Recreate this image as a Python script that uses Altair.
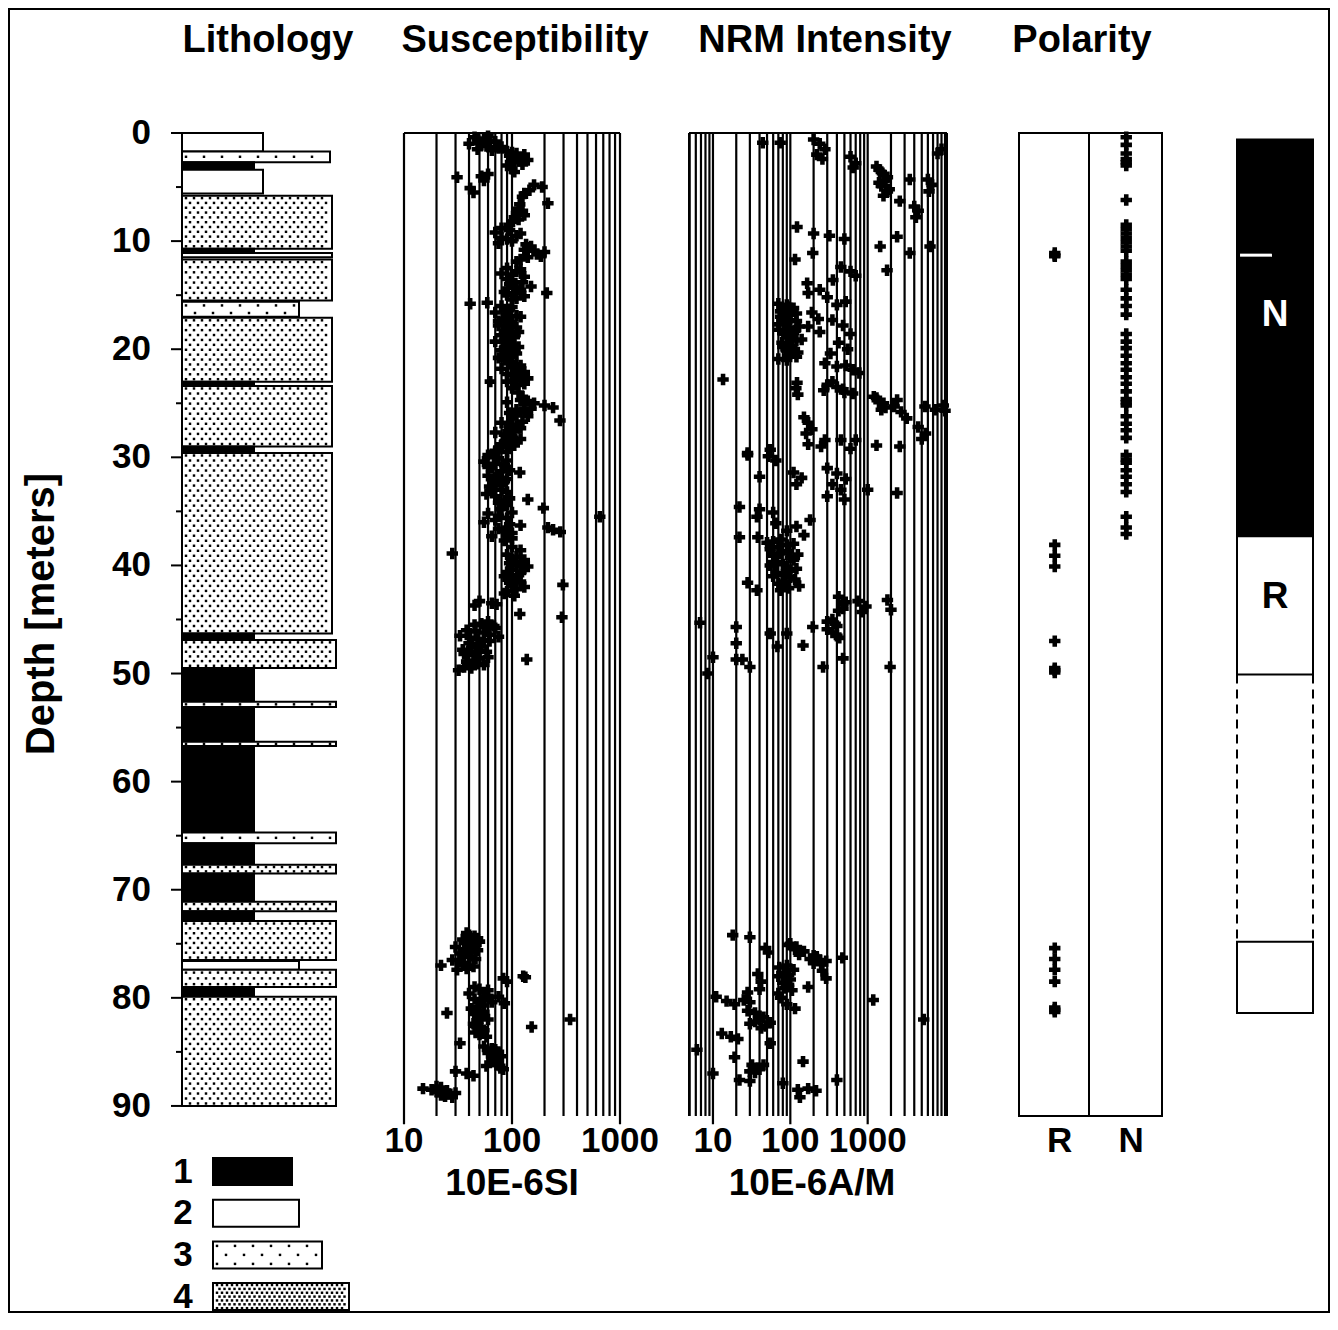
import altair as alt
import pandas as pd
import numpy as np

FONT = "Liberation Sans"

# ---------------- data ----------------
# lithology units (depth in m); grain = relative column width of the unit
lith_top = [0.0, 1.7, 2.7, 3.4, 5.8, 10.7, 11.1, 11.7, 15.6, 17.1, 23.0, 23.4, 29.0, 29.6, 46.3, 46.9,
            49.5, 52.6, 53.1, 56.3, 56.7, 64.7, 65.7, 67.7, 68.5, 71.1, 72.0, 72.9, 76.6, 77.4, 79.0, 79.9]
lith_bottom = [1.7, 2.7, 3.4, 5.6, 10.7, 11.1, 11.5, 15.5, 17.0, 23.0, 23.3, 29.0, 29.6, 46.3, 46.9, 49.5,
               52.6, 53.1, 56.3, 56.7, 64.7, 65.7, 67.7, 68.5, 71.1, 72.0, 72.9, 76.5, 77.4, 79.0, 79.9, 90.0]
lith_type = [2, 3, 1, 2, 4, 1, 2, 4, 3, 4, 1, 4, 1, 4, 1, 4,
             1, 3, 1, 3, 1, 3, 1, 4, 1, 4, 1, 4, 2, 4, 1, 4]
lith_grain = [81, 148, 72, 81, 150, 72, 150, 150, 117, 150, 72, 150, 72, 150, 72, 154,
              72, 154, 72, 154, 72, 154, 72, 154, 72, 154, 72, 154, 117, 154, 72, 154]

legend_codes = ["1", "2", "3", "4"]
legend_grain = [79, 86, 109, 136]

# susceptibility (depth m, 10E-6 SI)
sus_points = [
    (0.4, 45), (0.5, 55), (0.7, 62), (0.9, 50), (1.0, 40), (1.2, 58), (1.3, 80), (1.5, 48), (1.6, 65),
    (1.8, 100), (1.9, 110), (2.1, 95), (2.3, 120), (2.5, 140), (2.7, 105), (3.0, 90), (3.3, 100),
    (0.3, 60), (0.6, 48), (0.8, 70), (1.1, 52), (1.4, 75), (1.7, 90), (2.0, 130), (2.2, 105), (2.6, 115), (2.9, 125),
    (3.6, 105), (3.8, 60), (4.0, 52), (4.1, 31), (4.4, 55),
    (4.8, 160), (5.0, 190), (5.3, 145), (5.6, 130), (5.9, 125), (5.1, 41), (5.5, 44),
    (6.5, 215), (6.6, 118), (7.0, 115), (7.4, 110), (7.8, 105), (8.2, 100),
    (7.2, 125), (7.6, 130), (8.0, 115), (8.5, 95), (9.3, 120), (9.7, 80), (10.3, 135), (10.9, 160), (11.4, 185), (11.9, 110),
    (8.8, 80), (9.0, 95), (9.2, 70), (9.5, 110), (9.8, 90), (10.0, 100), (10.2, 75),
    (10.5, 150), (10.8, 130), (11.0, 200), (11.2, 170), (11.5, 140), (11.7, 120),
    (12.5, 90), (12.8, 110), (13.0, 80), (13.3, 130), (13.6, 100), (14.0, 95), (14.2, 150), (14.5, 120),
    (14.8, 105), (15.0, 90), (15.3, 110), (14.8, 210),
    (12.6, 120), (13.1, 100), (13.5, 90), (13.8, 125), (14.3, 110), (14.7, 85), (15.1, 130), (15.4, 100),
    (15.8, 41), (15.7, 59),
    (16.0, 80), (16.3, 95), (16.6, 70), (16.9, 110), (17.2, 85), (17.5, 100), (17.8, 75), (18.1, 90),
    (18.4, 115), (18.7, 80), (19.0, 95), (19.3, 70), (19.6, 105), (19.9, 85), (20.2, 100), (20.5, 90), (20.8, 75),
    (16.1, 100), (16.4, 85), (16.8, 90), (17.0, 120), (17.4, 75), (17.7, 95), (18.0, 110), (18.3, 85),
    (18.6, 100), (18.9, 105), (19.2, 85), (19.5, 90), (19.8, 115), (20.1, 80), (20.4, 110), (20.7, 100),
    (21.0, 85), (21.4, 110), (21.7, 100), (22.0, 115), (22.3, 90), (22.6, 120), (22.9, 105), (23.2, 130),
    (23.6, 100), (24.0, 115), (24.4, 125),
    (21.2, 95), (21.5, 120), (21.8, 80), (22.1, 130), (22.4, 100), (22.7, 140), (23.0, 90), (23.3, 110), (23.0, 63),
    (24.7, 120), (24.9, 90), (25.0, 160), (25.2, 200), (25.4, 240), (25.6, 110), (25.9, 95), (26.2, 140), (26.6, 278),
    (24.8, 140), (25.1, 130), (25.5, 150), (25.8, 120), (26.1, 110), (26.4, 100), (26.7, 125), (27.0, 95),
    (27.3, 120), (27.6, 105), (27.9, 85), (28.2, 95), (28.5, 110), (28.8, 80), (29.1, 95), (29.4, 70),
    (26.8, 80), (27.1, 110), (27.4, 95), (27.7, 70), (28.0, 100), (28.3, 120), (28.6, 85), (28.9, 105), (29.2, 75), (29.5, 90),
    (29.8, 60), (30.1, 75), (30.4, 55), (30.7, 85), (31.0, 65), (31.3, 80), (31.4, 118), (31.7, 60), (32.0, 90),
    (32.3, 70), (32.7, 62), (33.0, 80), (33.4, 58), (33.8, 95), (34.2, 75),
    (30.0, 68), (30.3, 90), (30.6, 70), (30.9, 60), (31.2, 95), (31.6, 75), (31.9, 70), (32.2, 85), (32.6, 80),
    (32.9, 65), (33.2, 90), (33.6, 70), (34.0, 85), (34.4, 90), (34.8, 80), (35.1, 100), (35.4, 75), (35.8, 70),
    (36.2, 95), (36.8, 85), (37.2, 90), (37.5, 100),
    (33.9, 140), (34.7, 195), (35.5, 650), (36.5, 215), (36.7, 240), (36.9, 280),
    (35.2, 60), (35.6, 90), (36.0, 55), (36.3, 120), (36.6, 75), (37.0, 100), (37.3, 65), (37.7, 85),
    (38.9, 28),
    (39.2, 110), (39.5, 130), (39.8, 95), (40.1, 140), (40.4, 100), (40.7, 120), (41.0, 85), (41.3, 110),
    (41.6, 95), (42.0, 130), (42.4, 90), (42.8, 105),
    (38.3, 100), (38.6, 120), (39.0, 90), (39.4, 100), (39.7, 120), (40.0, 110), (40.3, 130), (40.6, 90),
    (40.9, 115), (41.2, 100), (41.5, 120), (41.9, 100), (42.2, 110), (42.6, 85),
    (41.8, 296),
    (43.3, 50), (43.5, 65), (43.7, 45), (43.6, 72),
    (44.5, 118), (44.8, 290),
    (45.2, 60), (45.5, 45), (45.6, 68), (45.8, 70), (46.0, 38), (46.2, 55), (46.5, 33), (46.6, 75), (46.8, 48),
    (47.0, 62), (47.2, 40), (47.5, 52), (47.8, 35), (48.0, 58), (48.3, 44), (48.6, 50), (48.9, 38), (49.2, 55),
    (49.5, 42), (49.7, 32),
    (45.4, 52), (45.7, 58), (46.1, 46), (46.4, 62), (46.7, 41), (46.9, 55), (47.3, 48), (47.6, 42), (47.9, 50),
    (48.2, 36), (48.5, 60), (48.8, 45), (49.1, 48), (49.4, 36),
    (48.7, 137),
    (74.0, 38), (74.3, 45), (74.6, 35), (74.8, 50), (75.0, 42), (75.3, 30), (75.6, 48), (75.9, 33), (76.2, 40),
    (76.5, 28), (76.8, 36), (77.1, 44), (77.4, 31),
    (74.2, 40), (74.5, 48), (74.9, 36), (75.2, 45), (75.5, 38), (75.8, 42), (76.1, 35), (76.4, 46), (76.7, 33),
    (77.0, 40), (77.3, 38),
    (77.0, 22), (78.0, 127), (78.1, 133), (78.2, 83), (78.5, 90),
    (79.0, 45), (79.3, 60), (79.6, 40), (79.9, 75), (80.2, 52), (80.5, 85), (80.8, 48),
    (79.2, 50), (79.5, 55), (79.8, 60), (80.1, 45), (80.4, 65), (80.7, 55),
    (81.4, 25), (82.0, 345), (82.7, 152),
    (81.0, 42), (81.3, 55), (81.7, 48), (82.0, 60), (82.4, 44), (82.8, 52), (83.2, 46), (83.6, 58),
    (81.2, 50), (81.5, 45), (81.9, 52), (82.2, 48), (82.6, 45), (83.0, 55), (83.4, 50),
    (84.2, 33),
    (84.5, 55), (84.8, 70), (85.1, 60), (85.4, 80), (85.7, 65), (86.0, 75), (86.3, 58), (86.6, 83),
    (84.7, 65), (85.0, 75), (85.3, 70), (85.6, 75), (85.9, 68), (86.2, 72), (86.5, 78),
    (86.8, 30), (87.0, 38), (87.2, 44),
    (88.2, 20), (88.4, 15), (88.5, 18), (88.6, 25), (88.8, 30), (89.0, 22), (89.2, 28),
    (88.3, 22), (88.7, 20), (88.9, 26), (89.1, 24),
]

# NRM intensity (depth m, 10E-6 A/M)
nrm_points = [
    (0.9, 44), (0.9, 74), (0.6, 200), (1.0, 240), (1.5, 280), (2.0, 220), (2.4, 260), (2.2, 600), (2.8, 700),
    (3.2, 650), (3.1, 1300), (3.6, 1500), (4.1, 1800), (4.6, 1400), (5.2, 1900), (5.8, 1600),
    (3.4, 1400), (3.9, 1600), (4.4, 1700), (4.9, 1500), (5.4, 1800),
    (4.3, 3500), (4.3, 6000), (4.8, 6800), (5.4, 6200), (1.9, 8000), (1.5, 9000),
    (6.3, 2600), (6.8, 4000), (7.2, 4500), (7.8, 4200),
    (8.7, 122), (9.3, 200), (9.5, 320), (9.8, 500), (9.6, 2400), (10.5, 1450), (11.1, 3500), (10.5, 6400),
    (11.7, 115), (11.1, 195), (12.4, 450), (12.8, 600), (13.2, 700), (12.7, 1780), (13.9, 165), (13.6, 355),
    (14.5, 240), (14.8, 170), (15.2, 300), (15.6, 520), (15.9, 400),
    (15.8, 70), (16.1, 95), (16.4, 80), (16.7, 120), (17.0, 75), (17.3, 100), (17.6, 85), (17.9, 130),
    (18.2, 72), (18.5, 110), (18.8, 90), (19.1, 140), (19.4, 78), (19.7, 105), (20.0, 88), (20.3, 125),
    (20.6, 95), (20.9, 70),
    (15.9, 90), (16.2, 110), (16.5, 75), (16.8, 100), (17.1, 90), (17.4, 120), (17.7, 70), (18.0, 95),
    (18.3, 115), (18.6, 85), (18.9, 100), (19.2, 120), (19.5, 95), (19.8, 80), (20.1, 110), (20.4, 100),
    (20.7, 120), (21.0, 90),
    (16.6, 190), (17.2, 230), (17.9, 170), (18.4, 240), (17.3, 350), (17.8, 480), (18.6, 600), (19.4, 420),
    (20.0, 550), (20.4, 330),
    (21.3, 280), (21.6, 400), (21.9, 650), (22.2, 780), (21.5, 520), (22.8, 13.5), (23.1, 122), (23.6, 118),
    (24.2, 125), (23.3, 300), (23.7, 480), (24.1, 640), (23.8, 270),
    (23.0, 350), (23.5, 400), (24.0, 500), (24.5, 1300), (25.0, 1600), (25.6, 1500),
    (24.4, 1200), (24.9, 1400), (25.4, 1700), (24.7, 2400), (25.3, 2200), (25.8, 2700), (26.4, 3200),
    (25.3, 5500), (25.6, 7500), (25.7, 10000), (25.2, 9500), (27.2, 4500), (27.8, 5600), (28.3, 5000),
    (26.3, 150), (26.8, 170), (27.4, 190), (27.8, 160), (28.4, 280), (28.4, 450), (28.4, 700),
    (29.6, 28), (29.3, 55),
    (28.8, 170), (29.0, 250), (29.2, 600), (28.9, 1300), (29.0, 2600), (29.8, 28), (29.9, 52), (30.3, 65),
    (31.0, 300), (31.5, 400), (32.0, 520), (32.5, 350), (33.0, 450), (33.6, 300), (33.9, 500),
    (31.4, 110), (31.9, 140), (32.5, 120), (31.8, 40), (33.3, 2400), (33.0, 1000),
    (34.6, 22), (34.8, 40), (35.1, 60), (35.5, 37), (35.8, 180), (36.1, 65), (36.4, 120), (36.8, 90),
    (37.2, 150), (37.6, 75), (37.4, 22), (37.4, 38),
    (37.9, 50), (38.3, 70), (38.7, 95), (39.1, 60), (39.5, 110), (39.9, 80), (40.3, 120), (40.7, 65),
    (41.1, 100), (41.5, 85), (41.9, 130), (42.3, 75), (41.6, 28), (42.3, 37),
    (37.8, 60), (38.1, 90), (38.5, 55), (38.9, 75), (39.3, 100), (39.7, 65), (40.1, 90), (40.5, 100),
    (40.9, 80), (41.3, 115), (41.7, 70), (42.1, 95), (38.0, 110), (39.0, 125), (40.0, 55), (41.0, 60),
    (42.9, 420), (43.4, 520), (44.0, 480), (43.3, 750), (43.8, 950), (44.3, 850), (43.2, 1800), (44.1, 2000),
    (43.6, 480), (44.2, 420), (45.0, 350), (45.4, 380), (45.9, 300), (46.5, 400),
    (45.3, 6.8), (45.7, 20), (45.7, 195), (45.2, 300), (45.6, 400), (46.2, 350), (46.7, 430), (46.3, 55),
    (46.3, 90), (47.2, 20), (47.4, 146), (47.5, 68), (48.5, 10), (48.7, 20), (48.7, 24), (49.4, 30),
    (49.4, 265), (49.4, 1950), (50.0, 8.6), (48.6, 480),
    (74.2, 18), (74.4, 30), (75.4, 48), (75.8, 52), (75.1, 95), (75.5, 115), (76.0, 130), (76.4, 180),
    (76.9, 250), (76.2, 220), (76.6, 290), (76.3, 470), (77.5, 260), (78.2, 290), (77.8, 38), (78.5, 42),
    (79.2, 40), (77.2, 72), (77.9, 95), (78.6, 80), (79.3, 105), (80.0, 75), (79.0, 170), (79.5, 28),
    (75.0, 100), (75.3, 120), (75.7, 150), (76.1, 200), (76.5, 240), (76.8, 200), (77.0, 90), (77.4, 110),
    (77.7, 85), (78.0, 70), (78.3, 100), (78.8, 95), (79.1, 85), (79.6, 70),
    (79.9, 11), (80.3, 15), (80.6, 19), (80.2, 1180), (80.6, 90), (81.0, 115), (81.2, 28), (81.7, 40),
    (80.2, 25), (80.4, 30), (81.4, 35), (81.8, 45), (82.0, 40), (82.4, 30), (82.8, 42),
    (82.2, 35), (82.6, 48), (82.0, 5300), (82.3, 55), (83.3, 13), (83.6, 17), (83.8, 21), (84.8, 6.2),
    (84.2, 55), (85.5, 19), (85.9, 146), (86.2, 32), (86.6, 40), (86.9, 35), (87.0, 10), (87.6, 22),
    (86.2, 45), (86.5, 38), (86.8, 30),
    (87.7, 30), (87.6, 400), (87.9, 80), (88.5, 125), (88.4, 170), (88.6, 215), (89.2, 133),
]

# polarity determinations (depth m)
pol_R_depth = [11.1, 11.3, 11.4, 38.1, 39.1, 40.1, 47.0, 49.5, 49.7, 49.9, 75.4, 76.4, 77.4, 78.5,
               80.9, 81.1, 81.3]
pol_N_depth = [0.4, 1.1, 1.9, 2.4, 2.7, 3.0, 6.2, 8.5, 8.9, 9.3, 9.7, 10.1, 10.5, 10.9, 11.9, 12.3,
               12.7, 13.1, 13.5, 14.5, 15.3, 16.0, 16.8, 18.6, 19.3, 19.9, 20.6, 21.3, 21.9, 22.6, 23.2,
               23.9, 24.6, 24.9, 25.2, 26.2, 26.9, 27.5, 28.2, 29.8, 30.2, 30.5, 31.2, 31.8, 32.5, 33.2,
               35.5, 36.5, 37.1]

# polarity zonation
zone_top = [0.6, 37.3, 50.1, 74.8]
zone_bottom = [37.3, 50.1, 74.8, 81.4]
zone_pol = ["N", "R", "?", "R"]
zone_label = ["N", "R"]
zone_label_depth = [16.8, 42.9]
zone_tick_depth = [11.3]

panel_titles = ["Lithology", "Susceptibility", "NRM Intensity", "Polarity"]
depth_ticks = [0, 10, 20, 30, 40, 50, 60, 70, 80, 90]
depth_minor = [5, 15, 25, 35, 45, 55, 65, 75, 85]
sus_ticks = [10, 100, 1000]
nrm_ticks = [10, 100, 1000]

# ---------------- layout / scales ----------------
DEPTH_MAX = 90.93
H = 983
W = 1148
PX = H / DEPTH_MAX  # pixels per metre

yscale = alt.Scale(domain=[0, DEPTH_MAX], reverse=True, nice=False, zero=False)
lith_x = alt.Scale(domain=[0, 200], range=[0, 200], nice=False, zero=False)
sus_x = alt.Scale(type="log", domain=[10, 1000], range=[222, 438], nice=False)
nrm_x = alt.Scale(type="log", domain=[4.9, 10600], range=[507, 765], nice=False)
pol_x = alt.Scale(type="band", domain=["R", "N"], range=[837, 980], paddingInner=0, paddingOuter=0)
zone_x = alt.Scale(domain=[0, 1], range=[1055, 1131], nice=False, zero=False)

PT_SIZE = 130


def Yq(field):
    return alt.Y(field, type="quantitative", scale=yscale, axis=None)


def txt(size, **kw):
    return dict(font=FONT, fontWeight="bold", fontSize=size, color="black", **kw)


def stipple(top, bottom, left, right, dx, dy_px):
    h_px = (bottom - top) * PX
    n = max(1, int(round(h_px / dy_px)))
    pts = []
    for k in range(n):
        y = top + (k + 0.5) * (bottom - top) / n
        x = left + 4 + (dx / 2 if k % 2 else 0)
        while x <= right - 3:
            pts.append((x, y))
            x += dx
    return pts


# ---------------- depth axis ----------------
tick_df = pd.DataFrame({"d": depth_ticks, "x0": -11, "x1": 0, "t": [str(v) for v in depth_ticks]})
major_ticks = alt.Chart(tick_df).mark_rule(color="black", strokeWidth=2).encode(
    x=alt.X("x0:Q", scale=lith_x, axis=None), x2="x1:Q", y=Yq("d"))
tick_labels = alt.Chart(tick_df).mark_text(**txt(35), align="right", baseline="middle").encode(
    x=alt.value(-31), y=Yq("d"), text="t:N")
minor_df = pd.DataFrame({"d": depth_minor, "x0": -6, "x1": 0})
minor_ticks = alt.Chart(minor_df).mark_rule(color="black", strokeWidth=2).encode(
    x=alt.X("x0:Q", scale=lith_x, axis=None), x2="x1:Q", y=Yq("d"))
axis_line_df = pd.DataFrame({"x": [0], "y0": [0], "y1": [90]})
axis_line = alt.Chart(axis_line_df).mark_rule(color="black", strokeWidth=2).encode(
    x=alt.X("x:Q", scale=lith_x, axis=None), y=Yq("y0"), y2="y1:Q")
depth_title = alt.Chart(pd.DataFrame({"t": ["Depth [meters]"]})).mark_text(
    **txt(40), angle=270, align="center", baseline="middle").encode(
    x=alt.value(-140), y=alt.value(481), text="t:N")

# ---------------- lithology ----------------
lith_df = pd.DataFrame({"top": lith_top, "bottom": lith_bottom, "type": lith_type, "grain": lith_grain})
lith_df["lo"] = 0

litho = alt.Chart(lith_df).mark_rect(stroke="black", strokeWidth=2).encode(
    x=alt.X("lo:Q", scale=lith_x, axis=None),
    x2="grain:Q",
    y=Yq("top"),
    y2="bottom:Q",
    fill=alt.condition("datum.type == 1", alt.value("black"), alt.value("white")),
)

dots = []
for t, b, ty, g in zip(lith_top, lith_bottom, lith_type, lith_grain):
    if ty == 3:
        dots += stipple(t, b, 0, g, 18, 8)
    elif ty == 4:
        dots += stipple(t, b, 0, g, 8, 5)
dots_df = pd.DataFrame(dots, columns=["gx", "depth"])
litho_dots = alt.Chart(dots_df).mark_square(size=6, color="black", opacity=1).encode(
    x=alt.X("gx:Q", scale=lith_x, axis=None), y=Yq("depth"))

# legend (rows placed below the column using the depth scale)
leg_top0 = 1025 / PX
leg_step = 41.7 / PX
leg_h = 27 / PX
leg_df = pd.DataFrame({"code": legend_codes, "w": legend_grain})
leg_df["top"] = [leg_top0 + i * leg_step for i in range(4)]
leg_df["bottom"] = leg_df["top"] + leg_h
leg_df["mid"] = leg_df["top"] + leg_h / 2
leg_df["lo"] = 31
leg_df["hi"] = leg_df["lo"] + leg_df["w"]
leg_df["lab"] = 1
legend_rect = alt.Chart(leg_df).mark_rect(stroke="black", strokeWidth=2).encode(
    x=alt.X("lo:Q", scale=lith_x, axis=None), x2="hi:Q", y=Yq("top"), y2="bottom:Q",
    fill=alt.condition("datum.code == '1'", alt.value("black"), alt.value("white")))
legend_text = alt.Chart(leg_df).mark_text(**txt(35)).encode(
    x=alt.X("lab:Q", scale=lith_x, axis=None), y=Yq("mid"), text="code:N")
ldots = []
for _, r in leg_df.iterrows():
    if r["code"] == "3":
        ldots += stipple(r["top"], r["bottom"], r["lo"], r["hi"], 18, 8)
    elif r["code"] == "4":
        ldots += stipple(r["top"], r["bottom"], r["lo"], r["hi"], 5, 4)
ldots_df = pd.DataFrame(ldots, columns=["gx", "depth"])
legend_dots = alt.Chart(ldots_df).mark_square(size=6, color="black", opacity=1).encode(
    x=alt.X("gx:Q", scale=lith_x, axis=None), y=Yq("depth"))


# ---------------- log panels ----------------
def grid_values(lo_exp, hi_exp, extra_low=()):
    vals = list(extra_low)
    for e in range(lo_exp, hi_exp):
        vals += [m * 10 ** e for m in range(1, 10)]
    vals.append(10 ** hi_exp)
    return vals


def log_panel(points, scale, grid, majors, xmin, xmax, tick_vals, unit, unit_x, border_sides):
    gdf = pd.DataFrame({"v": grid})
    gdf["y0"] = 0
    gdf["y1"] = [91.7 if v in majors else DEPTH_MAX for v in grid]
    grid_l = alt.Chart(gdf).mark_rule(color="black", strokeWidth=2.2).encode(
        x=alt.X("v:Q", scale=scale, axis=None), y=Yq("y0"), y2="y1:Q")
    top_df = pd.DataFrame({"a": [xmin], "b": [xmax], "y": [0]})
    top_l = alt.Chart(top_df).mark_rule(color="black", strokeWidth=2).encode(
        x=alt.X("a:Q", scale=scale, axis=None), x2="b:Q", y=Yq("y"))
    side_df = pd.DataFrame({"v": border_sides, "y0": 0, "y1": DEPTH_MAX})
    side_l = alt.Chart(side_df).mark_rule(color="black", strokeWidth=2).encode(
        x=alt.X("v:Q", scale=scale, axis=None), y=Yq("y0"), y2="y1:Q")
    pdf = pd.DataFrame(points, columns=["depth", "val"])
    pts = alt.Chart(pdf).mark_point(shape="cross", filled=True, size=PT_SIZE, color="black", opacity=1).encode(
        x=alt.X("val:Q", scale=scale, axis=None), y=Yq("depth"))
    tdf = pd.DataFrame({"v": tick_vals, "t": [str(v) for v in tick_vals]})
    labels = alt.Chart(tdf).mark_text(**txt(35)).encode(
        x=alt.X("v:Q", scale=scale, axis=None), y=alt.value(1008), text="t:N")
    unit_l = alt.Chart(pd.DataFrame({"t": [unit]})).mark_text(**txt(37)).encode(
        x=alt.value(unit_x), y=alt.value(1051), text="t:N")
    return [grid_l, side_l, top_l, pts, labels, unit_l]


sus_layers = log_panel(sus_points, sus_x, grid_values(1, 3), sus_ticks, 10, 1000, sus_ticks,
                       "10E-6SI", 330, [10, 1000])
nrm_layers = log_panel(nrm_points, nrm_x, grid_values(1, 4, extra_low=[5, 6, 7, 8, 9]), nrm_ticks,
                       4.9, 10600, nrm_ticks, "10E-6A/M", 630, [4.9, 10600])

# ---------------- polarity panel ----------------
pol_df = pd.DataFrame({"pol": ["R"] * len(pol_R_depth) + ["N"] * len(pol_N_depth),
                       "depth": pol_R_depth + pol_N_depth})
frame_df = pd.DataFrame({"y0": [0], "y1": [DEPTH_MAX]})
pol_frame = alt.Chart(frame_df).mark_rect(fill=None, stroke="black", strokeWidth=2).encode(
    x=alt.value(837), x2=alt.value(980), y=Yq("y0"), y2="y1:Q")
pol_div = alt.Chart(frame_df).mark_rule(color="black", strokeWidth=2).encode(
    x=alt.value(907), y=Yq("y0"), y2="y1:Q")
pol_pts = alt.Chart(pol_df).mark_point(shape="cross", filled=True, size=PT_SIZE, color="black", opacity=1).encode(
    x=alt.X("pol:N", scale=pol_x, axis=None), y=Yq("depth"))
pol_lab = alt.Chart(pd.DataFrame({"pol": ["R", "N"]})).mark_text(**txt(35), dx=5).encode(
    x=alt.X("pol:N", scale=pol_x, axis=None), y=alt.value(1008), text="pol:N")

# ---------------- polarity zonation ----------------
zdf = pd.DataFrame({"top": zone_top, "bottom": zone_bottom, "pol": zone_pol})
zdf["lo"] = 0
zdf["hi"] = 1
zone_rect = alt.Chart(zdf).transform_filter("datum.pol != '?'").mark_rect(
    stroke="black", strokeWidth=2).encode(
    x=alt.X("lo:Q", scale=zone_x, axis=None), x2="hi:Q", y=Yq("top"), y2="bottom:Q",
    fill=alt.condition("datum.pol == 'N'", alt.value("black"), alt.value("white")))
dash_df = pd.DataFrame({"x": [0, 1], "top": zone_top[2], "bottom": zone_bottom[2]})
zone_dash = alt.Chart(dash_df).mark_rule(color="black", strokeWidth=2, strokeDash=[9, 6]).encode(
    x=alt.X("x:Q", scale=zone_x, axis=None), y=Yq("top"), y2="bottom:Q")
zl_df = pd.DataFrame({"lab": zone_label, "depth": zone_label_depth, "x": 0.5})
zone_lab = alt.Chart(zl_df).mark_text(font=FONT, fontWeight="bold", fontSize=37).encode(
    x=alt.X("x:Q", scale=zone_x, axis=None), y=Yq("depth"), text="lab:N",
    color=alt.condition("datum.lab == 'N'", alt.value("white"), alt.value("black")))
zt_df = pd.DataFrame({"depth": zone_tick_depth, "a": 0.04, "b": 0.46})
zone_tick = alt.Chart(zt_df).mark_rule(color="white", strokeWidth=3).encode(
    x=alt.X("a:Q", scale=zone_x, axis=None), x2="b:Q", y=Yq("depth"))

# ---------------- titles & frame ----------------
TOTAL_H = 1306
title_x = [86, 343, 643, 900]
titles = [alt.Chart(pd.DataFrame({"t": [t]})).mark_text(**txt(38)).encode(
    x=alt.value(x), y=alt.value(-92), text="t:N") for t, x in zip(panel_titles, title_x)]
frame = alt.Chart(pd.DataFrame({"a": [0]})).mark_rect(fill=None, stroke="black", strokeWidth=2).encode(
    x=alt.value(-173), x2=alt.value(W - 1), y=alt.value(-124), y2=alt.value(TOTAL_H - 125 - 2))

layers = ([litho, litho_dots, axis_line, major_ticks, minor_ticks, tick_labels, depth_title,
           legend_rect, legend_dots, legend_text]
          + sus_layers + nrm_layers
          + [pol_frame, pol_div, pol_pts, pol_lab, zone_rect, zone_dash, zone_tick, zone_lab]
          + titles + [frame])

chart = alt.layer(*layers).resolve_scale(x="independent").properties(
    width=W, height=H,
    autosize=alt.AutoSizeParams(type="none"),
    padding={"left": 174, "top": 125, "right": 0, "bottom": TOTAL_H - 125 - H},
    background="white",
).configure_view(stroke=None)

chart.save("out.html", embed_options={"renderer": "svg", "actions": False})
